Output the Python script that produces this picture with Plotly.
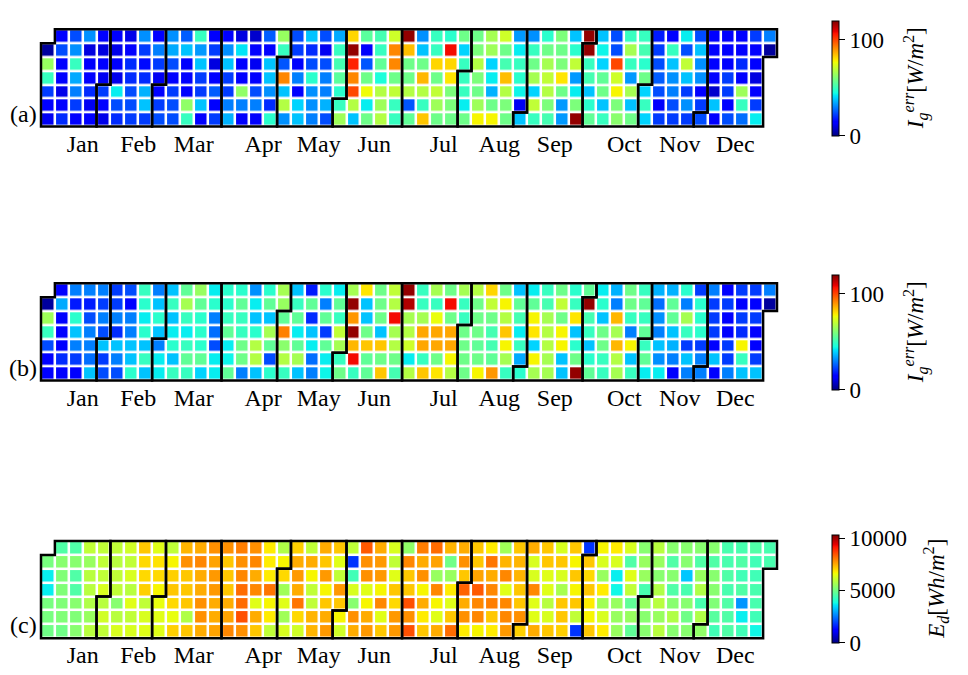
import datetime as dt
import numpy as np
import plotly.graph_objects as go

YEAR = 2013
MONTH_LABELS = ["Jan", "Feb", "Mar", "Apr", "May", "Jun",
                "Jul", "Aug", "Sep", "Oct", "Nov", "Dec"]
PANEL_LABELS = ["(a)", "(b)", "(c)"]

# Daily values in date order, one line per calendar week (Mon..Sun).
# The year opens on a Tuesday and closes on a Tuesday.
ig_err_a = [
    3, 64, 50, 22, 14, 12,
    14, 24, 14, 14, 11, 14, 20,
    24, 32, 50, 35, 30, 22, 15,
    32, 10, 13, 14, 20, 12, 15,
    14, 10, 14, 12, 22, 14, 11,
    13, 11, 14, 11, 43, 24, 20,
    11, 14, 20, 20, 24, 24, 22,
    32, 22, 16, 20, 36, 38, 22,
    15, 30, 22, 12, 15, 22, 24,
    32, 35, 24, 14, 22, 24, 24,
    26, 38, 13, 14, 15, 63, 50,
    50, 33, 38, 22, 22, 38, 14,
    13, 22, 10, 14, 26, 14, 22,
    14, 32, 38, 22, 22, 30, 36,
    10, 42, 14, 14, 63, 30, 13,
    8, 14, 12, 14, 24, 30, 13,
    26, 14, 38, 38, 32, 20, 48,
    64, 50, 25, 92, 38, 68, 32,
    24, 22, 13, 30, 14, 40, 38,
    38, 20, 24, 48, 32, 32, 30,
    24, 12, 24, 30, 30, 36, 24,
    35, 50, 52, 55, 48, 50, 65,
    82, 118, 105, 92, 100, 68, 38,
    55, 13, 25, 58, 77, 43, 58,
    52, 50, 56, 46, 68, 65, 68,
    72, 92, 92, 58, 70, 50, 50,
    118, 85, 58, 58, 68, 25, 56,
    32, 38, 58, 86, 68, 50, 84,
    50, 50, 82, 58, 70, 65, 58,
    48, 108, 82, 80, 60, 60, 58,
    58, 40, 50, 50, 50, 43, 58,
    58, 60, 68, 60, 58, 65, 78,
    66, 65, 40, 43, 36, 58, 78,
    72, 58, 52, 85, 68, 60, 58,
    33, 43, 50, 48, 44, 12, 38,
    32, 50, 58, 66, 40, 70, 50,
    48, 58, 66, 70, 68, 60, 52,
    60, 58, 60, 80, 58, 33, 33,
    38, 48, 70, 33, 43, 60, 118,
    118, 118, 50, 52, 38, 48, 56,
    38, 44, 40, 56, 58, 38, 50,
    24, 24, 100, 72, 78, 60, 62,
    50, 66, 50, 33, 66, 38, 58,
    50, 52, 48, 58, 40, 50, 40,
    18, 22, 24, 26, 24, 13, 22,
    14, 50, 38, 32, 30, 24, 22,
    43, 24, 70, 38, 22, 32, 22,
    24, 38, 32, 32, 14, 22, 24,
    14, 14, 14, 14, 8, 38, 14,
    13, 14, 14, 22, 22, 14, 24,
    14, 14, 20, 14, 65, 50, 28,
    22, 14, 14, 10, 14, 22, 43,
    30, 3,
]

ig_err_b = [
    3, 65, 50, 24, 15, 14,
    14, 35, 14, 14, 14, 20, 14,
    30, 18, 48, 38, 30, 22, 14,
    30, 18, 24, 30, 30, 28, 38,
    30, 22, 30, 24, 38, 22, 24,
    22, 22, 30, 20, 38, 30, 24,
    24, 14, 30, 30, 38, 38, 48,
    50, 48, 43, 48, 38, 50, 38,
    30, 38, 48, 38, 30, 43, 43,
    38, 50, 38, 43, 48, 38, 50,
    56, 66, 50, 43, 50, 56, 50,
    64, 56, 48, 48, 48, 56, 40,
    43, 48, 30, 28, 24, 43, 43,
    48, 48, 50, 56, 43, 44, 56,
    48, 56, 50, 50, 58, 58, 30,
    32, 43, 38, 48, 68, 68, 38,
    48, 56, 38, 66, 56, 24, 48,
    66, 64, 56, 93, 62, 68, 50,
    38, 50, 56, 43, 56, 66, 38,
    18, 56, 20, 38, 43, 28, 30,
    48, 30, 56, 22, 56, 43, 44,
    43, 56, 50, 70, 66, 50, 58,
    66, 118, 90, 118, 86, 108, 50,
    80, 38, 38, 58, 84, 56, 56,
    58, 58, 58, 38, 84, 58, 84,
    70, 68, 108, 66, 68, 58, 52,
    118, 115, 66, 68, 72, 43, 68,
    50, 50, 66, 88, 88, 50, 84,
    66, 50, 76, 88, 88, 58, 80,
    58, 108, 58, 88, 88, 78, 68,
    66, 50, 50, 58, 58, 58, 58,
    68, 58, 58, 58, 56, 58, 78,
    82, 70, 58, 52, 52, 56, 90,
    58, 78, 68, 84, 78, 66, 50,
    38, 56, 52, 43, 50, 35, 48,
    43, 56, 78, 80, 40, 78, 66,
    50, 52, 66, 68, 68, 66, 66,
    58, 70, 58, 78, 78, 38, 38,
    48, 50, 80, 38, 48, 58, 118,
    56, 118, 52, 50, 38, 48, 56,
    43, 48, 38, 58, 58, 50, 50,
    36, 30, 86, 66, 86, 68, 66,
    58, 58, 50, 30, 78, 38, 50,
    50, 56, 50, 56, 50, 56, 43,
    36, 28, 32, 30, 38, 32, 43,
    36, 56, 56, 38, 36, 30, 14,
    48, 30, 66, 50, 22, 38, 30,
    22, 48, 48, 48, 22, 30, 30,
    30, 22, 22, 22, 14, 38, 14,
    14, 22, 14, 14, 22, 22, 30,
    22, 14, 22, 20, 78, 50, 38,
    22, 14, 22, 14, 14, 22, 38,
    30, 3,
]

ed_daily = [
    5100, 3700, 3700, 5100, 5100, 5000,
    4600, 5300, 5200, 5200, 5200, 5200, 5000,
    4600, 5300, 4600, 4600, 5300, 5200, 5300,
    6000, 5500, 5900, 5900, 5800, 5500, 5900,
    6000, 6000, 6000, 6300, 5900, 6200, 6000,
    6000, 5900, 6000, 6000, 5300, 5900, 6300,
    6200, 6000, 6300, 5900, 6400, 6000, 6300,
    7200, 7000, 7000, 7100, 6000, 6300, 6400,
    6400, 6900, 7000, 6700, 6500, 6400, 6400,
    6000, 6700, 7100, 7200, 7000, 6500, 7100,
    7400, 7800, 7200, 7200, 7200, 5800, 7200,
    7500, 7900, 7500, 7500, 7800, 7800, 7500,
    7800, 7600, 7700, 7700, 7500, 7500, 7600,
    7800, 7200, 7200, 7200, 7500, 7600, 7900,
    8000, 7800, 7900, 8200, 8200, 8500, 7800,
    7800, 7900, 7500, 7900, 6400, 7500, 7200,
    6800, 6800, 6800, 8100, 6700, 6800, 6000,
    5800, 6700, 7000, 5600, 6400, 5600, 6300,
    7100, 7500, 7700, 7500, 8100, 7000, 6200,
    6000, 7500, 6700, 6000, 6000, 7400, 7400,
    7500, 7200, 7700, 6700, 7200, 7500, 7700,
    7200, 6400, 6000, 7700, 7200, 6700, 6200,
    6000, 1800, 4400, 6300, 5300, 7800, 7500,
    8400, 7800, 7800, 6400, 6700, 7500, 7700,
    7500, 7700, 7700, 6700, 7900, 6400, 7200,
    6300, 6000, 6400, 7200, 7000, 7700, 7700,
    5400, 7900, 7200, 7200, 8500, 7800, 8500,
    8000, 7500, 7800, 6700, 7500, 6800, 7200,
    8200, 7600, 5500, 7900, 6700, 6400, 7500,
    7400, 5000, 5500, 6800, 6400, 7200, 8200,
    7500, 7800, 7200, 8300, 7500, 7800, 6800,
    7200, 7200, 7600, 8400, 7900, 7900, 6700,
    6800, 8100, 7500, 7900, 8000, 7200, 6800,
    5600, 7400, 7900, 6400, 7900, 7900, 7700,
    7200, 7400, 7400, 7200, 7200, 7800, 7100,
    7500, 6300, 6300, 7900, 6400, 6400, 7500,
    7200, 7200, 6400, 6400, 5900, 6300, 7200,
    6300, 7200, 6300, 5700, 7200, 7200, 7100,
    7200, 6700, 7200, 6700, 7200, 6000, 1800,
    1800, 7200, 7000, 7200, 6800, 6700, 7200,
    6700, 6300, 5500, 6800, 5600, 6300, 6800,
    6800, 6300, 3700, 3800, 5500, 5500, 5500,
    6300, 4600, 6400, 6000, 4800, 5500, 4800,
    5300, 5500, 5500, 4500, 5500, 5300, 5300,
    5900, 5500, 5300, 5800, 5900, 5500, 5900,
    5300, 4600, 5300, 4600, 5300, 5800, 5300,
    5300, 5300, 3300, 4500, 5300, 5000, 5300,
    5300, 4600, 5500, 5800, 4500, 5800, 5400,
    5300, 4600, 5300, 5300, 5200, 4700, 4400,
    4500, 4500, 4600, 4500, 4600, 4600, 4600,
    4500, 4600, 4400, 4600, 2800, 3700, 4400,
    4600, 4400, 4400, 4500, 4500, 4400, 3800,
    4500, 4500,
]

PANELS = [ig_err_a, ig_err_b, ed_daily]
ZMAX = [120, 120, 10300]
CBAR_TICKS = [[0, 100], [0, 100], [0, 5000, 10000]]
CBAR_TITLES = [
    "<i>I</i><sub><i>g</i></sub><sup><i>err</i></sup>[<i>W</i>/<i>m</i><sup>2</sup>]",
    "<i>I</i><sub><i>g</i></sub><sup><i>err</i></sup>[<i>W</i>/<i>m</i><sup>2</sup>]",
    "<i>E</i><sub><i>d</i></sub>[<i>Wh</i>/<i>m</i><sup>2</sup>]",
]

# ---- calendar geometry -------------------------------------------------
start = dt.date(YEAR, 1, 1)
ndays = (dt.date(YEAR + 1, 1, 1) - start).days
days = [start + dt.timedelta(i) for i in range(ndays)]
origin = start - dt.timedelta(start.weekday())


def cell(d):
    return (d - origin).days // 7, d.weekday()


ncols = cell(days[-1])[0] + 1
for vals in PANELS:
    if len(vals) != ndays:
        raise ValueError(f"expected {ndays} daily values, got {len(vals)}")


def to_grid(vals):
    z = [[None] * ncols for _ in range(7)]
    for d, v in zip(days, vals):
        c, r = cell(d)
        z[r][c] = v
    return z


def month_outline(m):
    first = dt.date(YEAR, m, 1)
    last = (dt.date(YEAR, m + 1, 1) if m < 12 else dt.date(YEAR + 1, 1, 1)) - dt.timedelta(1)
    c1, r1 = cell(first)
    c2, r2 = cell(last)
    pts = [(c1 - 0.5, r1 - 0.5), (c1 + 0.5, r1 - 0.5), (c1 + 0.5, -0.5),
           (c2 + 0.5, -0.5), (c2 + 0.5, r2 + 0.5), (c2 - 0.5, r2 + 0.5),
           (c2 - 0.5, 6.5), (c1 - 0.5, 6.5)]
    return "M " + " L ".join(f"{x},{y}" for x, y in pts) + " Z"


# ticks sit at the right edge of the week holding the 15th of each month
month_ticks = [cell(dt.date(YEAR, m, 15))[0] + 0.5 for m in range(1, 13)]


# ---- matplotlib-style jet colour map ----------------------------------
def jet(t):
    def ch(pts):
        xs, ys = zip(*pts)
        return float(np.interp(t, xs, ys))
    r = ch([(0, 0), (0.35, 0), (0.66, 1), (0.89, 1), (1, 0.5)])
    g = ch([(0, 0), (0.125, 0), (0.375, 1), (0.64, 1), (0.91, 0), (1, 0)])
    b = ch([(0, 0.5), (0.11, 1), (0.34, 1), (0.65, 0), (1, 0)])
    return f"rgb({round(r * 255)},{round(g * 255)},{round(b * 255)})"


JET_STOPS = [0, 0.11, 0.125, 0.34, 0.35, 0.375, 0.64, 0.65, 0.66, 0.89, 0.91, 1]
JET = [[t, jet(t)] for t in JET_STOPS]

# ---- page layout (pixels) ---------------------------------------------
W, H = 968, 675
GX0, GX1 = 41.0, 777.0
UNIT = (GX1 - GX0) / ncols
PAD = 0.3
PANEL_TOPS = [29.3, 283.3, 541.0]
CBAR_SPAN = [(10.7, 145.7), (264.7, 399.7), (525.0, 652.7)]
CBAR_X = 822.0
CBAR_TITLE_X = [916.0, 916.0, 936.0]
FONT = "Liberation Serif"

fig = go.Figure()
shapes = []
annotations = []

for i, vals in enumerate(PANELS):
    k = "" if i == 0 else str(i + 1)
    top = PANEL_TOPS[i]
    bot = top + 7 * UNIT
    c0, c1 = CBAR_SPAN[i]
    fig.add_trace(go.Heatmap(
        z=to_grid(vals), x=list(range(ncols)), y=list(range(7)),
        xaxis="x" + k, yaxis="y" + k,
        colorscale=JET, zmin=0, zmax=ZMAX[i], xgap=2.5, ygap=2.5,
        hoverongaps=False,
        colorbar=dict(
            x=CBAR_X / W, xanchor="left", xref="paper",
            y=1 - (c0 + c1) / 2 / H, yanchor="middle", yref="paper",
            len=c1 - c0, lenmode="pixels", thickness=7,
            outlinewidth=1, outlinecolor="black",
            tickvals=CBAR_TICKS[i], ticktext=[str(t) for t in CBAR_TICKS[i]],
            ticks="outside", ticklen=6, tickcolor="black", tickwidth=1,
            tickfont=dict(family=FONT, size=23, color="black"),
        ),
    ))
    fig.update_layout({
        "xaxis" + k: dict(
            domain=[(GX0 - PAD * UNIT) / W, (GX1 + PAD * UNIT) / W],
            range=[-0.5 - PAD, ncols - 0.5 + PAD],
            showgrid=False, zeroline=False, showline=False,
            tickvals=month_ticks, ticktext=MONTH_LABELS, ticks="",
            ticklabelstandoff=-4,
            tickfont=dict(family=FONT, size=24, color="black"),
            anchor="y" + k, fixedrange=True,
        ),
        "yaxis" + k: dict(
            domain=[1 - (bot + PAD * UNIT) / H, 1 - (top - PAD * UNIT) / H],
            range=[6.5 + PAD, -0.5 - PAD],
            showgrid=False, zeroline=False, showline=False,
            showticklabels=False, ticks="",
            anchor="x" + k, fixedrange=True,
        ),
    })
    for m in range(1, 13):
        shapes.append(dict(type="path", path=month_outline(m),
                           xref="x" + k, yref="y" + k,
                           line=dict(color="black", width=2.5),
                           layer="above"))
    annotations.append(dict(
        text=PANEL_LABELS[i], xref="paper", yref="paper",
        x=39 / W, xanchor="right", y=1 - (bot - 13) / H, yanchor="middle",
        showarrow=False, font=dict(family=FONT, size=24, color="black"),
    ))
    annotations.append(dict(
        text=CBAR_TITLES[i], xref="paper", yref="paper",
        x=CBAR_TITLE_X[i] / W, xanchor="center",
        y=1 - (c0 + c1) / 2 / H, yanchor="middle", textangle=-90,
        showarrow=False, font=dict(family=FONT, size=23, color="black"),
    ))

fig.update_layout(
    width=W, height=H, margin=dict(l=0, r=0, t=0, b=0),
    paper_bgcolor="white", plot_bgcolor="white",
    shapes=shapes, annotations=annotations, showlegend=False,
)

fig.write_html("out.html")
